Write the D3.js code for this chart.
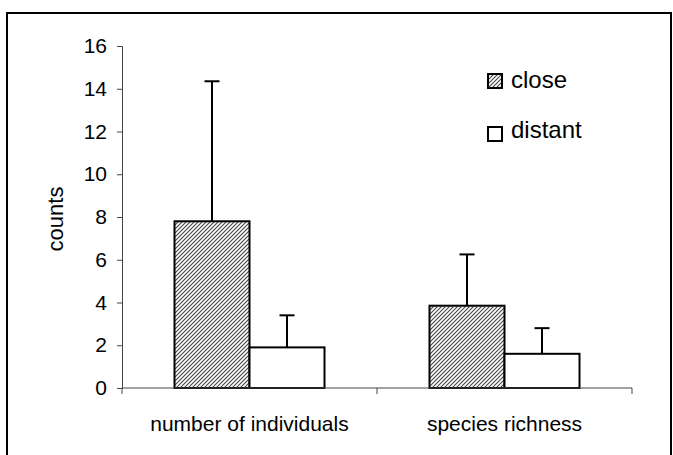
<!DOCTYPE html>
<html>
<head>
<meta charset="utf-8">
<script src="https://cdn.jsdelivr.net/npm/d3@7"></script>
<style>
  body { margin: 0; background: #fff; }
  text { font-family: "Liberation Sans", Arial, sans-serif; fill: #000; }
</style>
</head>
<body>
<div id="canvas"></div>
<script>
// data
const categories = ["number of individuals", "species richness"];
const seriesNames = ["close", "distant"];
const closeMeans = [7.8, 3.85];
const distantMeans = [1.9, 1.6];
const closeErrors = [6.55, 2.4];
const distantErrors = [1.5, 1.2];
const yTicks = [0, 2, 4, 6, 8, 10, 12, 14, 16];

const width = 673, height = 455;
const margin = {left: 122, right: 41, top: 46, bottom: 67};

const svg = d3.select('#canvas')
    .append('svg')
    .attr('width', width)
    .attr('height', height);

//Hatch pattern for the "close" bars
const defs = svg.append('defs');
const hatch = defs.append('pattern')
    .attr('id', 'hatch')
    .attr('patternUnits', 'userSpaceOnUse')
    .attr('width', 4)
    .attr('height', 4);
hatch.append('rect').attr('width', 4).attr('height', 4).attr('fill', '#fff');
hatch.append('path')
    .attr('d', 'M-1,1 L1,-1 M0,4 L4,0 M3,5 L5,3')
    .attr('stroke', '#444')
    .attr('stroke-width', 1.1);

const fills = {close: 'url(#hatch)', distant: '#fff'};

//Outer frame
svg.append('rect')
    .attr('x', 7)
    .attr('y', 13)
    .attr('width', 664)
    .attr('height', 460)
    .attr('fill', 'none')
    .attr('stroke', '#000')
    .attr('stroke-width', 2);

const x0 = d3.scaleBand()
    .domain(categories)
    .range([margin.left, width - margin.right]);

const x1 = d3.scaleBand()
    .domain(seriesNames)
    .range([0, x0.bandwidth()])
    .paddingOuter(0.7);

const y = d3.scaleLinear()
    .domain([0, 16])
    .range([height - margin.bottom, margin.top]);

//Y axis
const yAxis = svg.append('g')
    .attr('transform', `translate(${margin.left},0)`)
    .call(d3.axisLeft(y).tickValues(yTicks).tickSize(5).tickPadding(10).tickFormat(d3.format('d')));
yAxis.select('.domain').attr('stroke', '#444');
yAxis.selectAll('.tick line').attr('stroke', '#444');
yAxis.selectAll('.tick text')
    .style('font-size', '21px')
    .style('font-family', '"Liberation Sans", Arial, sans-serif');

//Y label
svg.append('text')
    .attr('transform', 'translate(63, 219) rotate(-90)')
    .attr('text-anchor', 'middle')
    .style('font-size', '22px')
    .text('counts');

//Build rows for bars
const rows = [];
categories.forEach((c, i) => {
    rows.push({cat: c, series: 'close', value: closeMeans[i], err: closeErrors[i]});
    rows.push({cat: c, series: 'distant', value: distantMeans[i], err: distantErrors[i]});
});

//Error bars (upper only)
const err = svg.append('g').attr('stroke', '#000').attr('stroke-width', 2);
rows.forEach(d => {
    const cx = x0(d.cat) + x1(d.series) + x1.bandwidth() / 2;
    err.append('line')
        .attr('x1', cx).attr('x2', cx)
        .attr('y1', y(d.value)).attr('y2', y(d.value + d.err));
    err.append('line')
        .attr('x1', cx - 7.5).attr('x2', cx + 7.5)
        .attr('y1', y(d.value + d.err)).attr('y2', y(d.value + d.err));
});

//Bars
svg.append('g')
    .selectAll('rect')
    .data(rows)
    .enter()
        .append('rect')
        .attr('x', d => x0(d.cat) + x1(d.series))
        .attr('y', d => y(d.value))
        .attr('width', x1.bandwidth())
        .attr('height', d => y(0) - y(d.value))
        .attr('fill', d => fills[d.series])
        .attr('stroke', '#000')
        .attr('stroke-width', 2);

//X axis: ticks between categories
const xAxis = svg.append('g').attr('stroke', '#444');
xAxis.append('line')
    .attr('x1', x0.range()[0]).attr('x2', x0.range()[1])
    .attr('y1', y(0)).attr('y2', y(0));
const xTickPos = [x0.range()[0]].concat(categories.map(c => x0(c) + x0.bandwidth()));
xAxis.selectAll('.xt')
    .data(xTickPos)
    .enter()
        .append('line')
        .attr('x1', d => d).attr('x2', d => d)
        .attr('y1', y(0)).attr('y2', y(0) + 6);

svg.selectAll('.xlabel')
    .data(categories)
    .enter()
        .append('text')
        .attr('x', d => x0(d) + x0.bandwidth() / 2)
        .attr('y', 431)
        .attr('text-anchor', 'middle')
        .style('font-size', '21px')
        .text(d => d);

//Legend
const legend = svg.append('g');
seriesNames.forEach((s, i) => {
    legend.append('rect')
        .attr('x', 488)
        .attr('y', 74 + i * 53)
        .attr('width', 14)
        .attr('height', 14)
        .attr('fill', fills[s])
        .attr('stroke', '#000')
        .attr('stroke-width', 2);
    legend.append('text')
        .attr('x', 511)
        .attr('y', 88 + i * 50)
        .style('font-size', '24px')
        .text(s);
});
</script>
</body>
</html>
